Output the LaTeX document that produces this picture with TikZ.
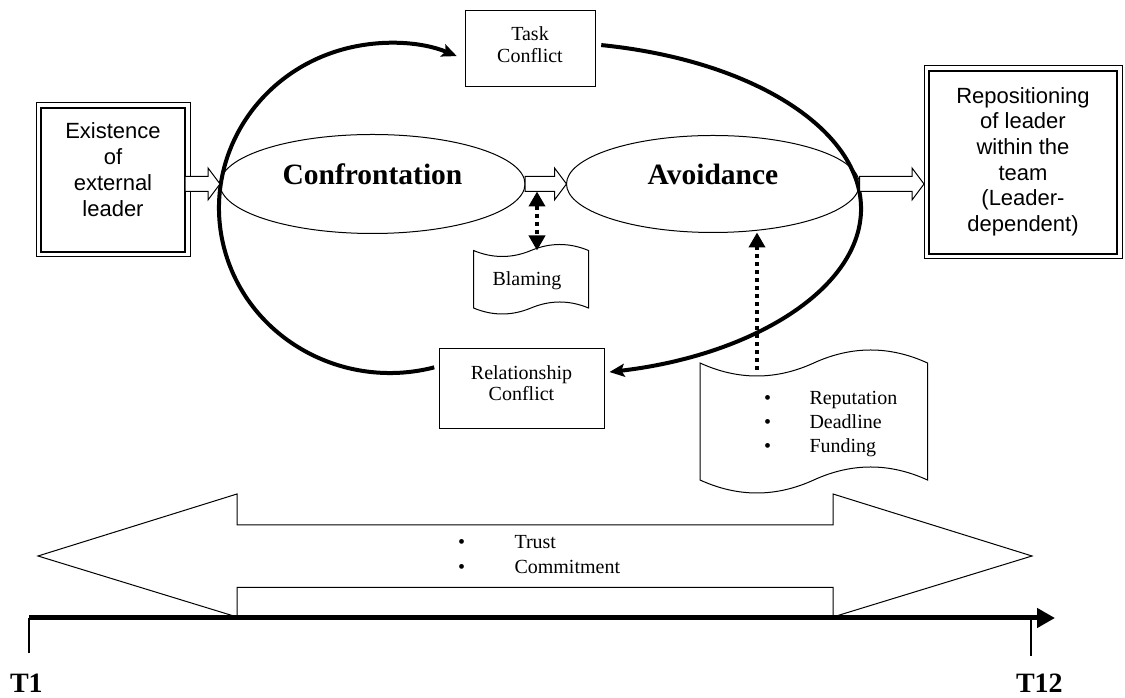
\documentclass[tikz,border=0pt]{standalone}
\usepackage{fontspec}
\setmainfont{Liberation Serif}
\newfontfamily\arialish{Liberation Sans}
\usetikzlibrary{arrows.meta,shapes.geometric,calc}
\tikzset{dottip/.tip={Triangle[length=15pt,width=16pt]}}

% wavy "punched tape" outline around an (invisible) rectangular node
\newcommand\papersheet[2]{%
  \draw[paperline] let \p1=(#1.north west), \p2=(#1.south east),
      \n1={(\x2-\x1)/6}, \n2={4*#2/3}, \n3={(\x1+\x2)/2} in
    (\x1,\y1) .. controls +(\n1,-\n2) and +(-\n1,-\n2) .. (\n3,\y1)
    .. controls +(\n1,\n2) and +(-\n1,\n2) .. (\x2,\y1)
    -- (\x2,\y2) .. controls +(-\n1,\n2) and +(\n1,\n2) .. (\n3,\y2)
    .. controls +(-\n1,-\n2) and +(\n1,-\n2) .. (\x1,\y2) -- cycle;}

\begin{document}
\begin{tikzpicture}[x=1pt,y=1pt,
  every node/.style={inner sep=0pt, outer sep=0pt},
  sansbox/.style={draw, line width=1.6pt, fill=white},
  sanstext/.style={font=\arialish\fontsize{22}{26}\selectfont, align=center},
  smallbox/.style={draw, line width=1pt, fill=white},
  smalltext/.style={font=\fontsize{20}{21.5}\selectfont, align=center},
  stage/.style={draw, ellipse, line width=1pt, text height=20pt, text depth=18pt,
    font=\bfseries\fontsize{29.5}{33}\selectfont},
  sheet/.style={draw=none},
  paperline/.style={line width=1pt, fill=white},
  listtext/.style={font=\fontsize{20}{24}\selectfont, anchor=base west},
  ring/.style={line width=4pt, -{Stealth[length=15pt,width=13pt,inset=3pt]}},
  dotlink/.style={line width=4pt, dash pattern=on 4pt off 4pt},
  blockarrow/.style={line width=1pt, fill=white, to path={
    let \p1=(\tikztostart), \p2=(\tikztotarget) in
    (\x1,\y2+7.5pt) -- (\x2-12pt,\y2+7.5pt) -- (\x2-12pt,\y2+16pt) -- (\tikztotarget)
    -- (\x2-12pt,\y2-16pt) -- (\x2-12pt,\y2-7.5pt) -- (\x1,\y2-7.5pt) -- cycle}},
  timeline/.style={line width=5pt, -{Triangle[length=18pt,width=19pt]}},
  tick/.style={line width=1.2pt},
  stamp/.style={font=\bfseries\fontsize{28}{30}\selectfont, anchor=base west},
]
\useasboundingbox (0,0) rectangle (1125,698);

% conflict cycle around the two stages
\coordinate (ringL) at (390,490);
\coordinate (ringR) at (540,489);
\draw[ring] ([shift={(285:171 and 165)}]ringL) arc[start angle=285, end angle=67, x radius=171, y radius=165];
\draw[ring] ([shift={(79:321 and 167)}]ringR) arc[start angle=79, end angle=-77.5, x radius=321, y radius=167];

% stages
\node[stage, minimum width=305pt, minimum height=99pt] (conf) at (372.5,514) {Confrontation};
\node[stage, minimum width=293pt, minimum height=97pt] (avoid) at (713,514) {Avoidance};

% conflict boxes
\node[smallbox, minimum width=130pt, minimum height=76pt] (task) at (530,649) {};
\node[smalltext] (taskT) at (530,653.1) {Task\\Conflict};
\node[smallbox, minimum width=165pt, minimum height=80pt] (rel) at (521.5,309) {};
\node[smalltext] (relT) at (521.5,314.6) {Relationship\\Conflict};

% start and outcome boxes (double frame)
\node[sansbox, minimum width=144pt, minimum height=144pt] (ext) at (113,518) {};
\draw[line width=1pt] ([shift={(-5pt,5pt)}]ext.north west) rectangle ([shift={(5pt,-5pt)}]ext.south east);
\node[sanstext] (extT) at (113,528) {Existence\\of\\external\\leader};
\node[sansbox, minimum width=188pt, minimum height=183pt] (out) at (1023,535.5) {};
\draw[line width=1pt] ([shift={(-5pt,5pt)}]out.north west) rectangle ([shift={(5pt,-5pt)}]out.south east);
\node[sanstext, font=\arialish\fontsize{22}{25.7}\selectfont] (outT) at (1023,536.3)
  {Repositioning\\of leader\\within the\\team\\(Leader-\\dependent)};

% block arrows along the process
\draw[blockarrow] (ext.east) to (conf.west);
\draw[blockarrow] (conf.east) to (avoid.west);
\draw[blockarrow] (avoid.east) to ([xshift=-5pt]out.west |- avoid.east);

% moderators
\node[sheet, minimum width=115pt, minimum height=57.5pt] (blame) at (531,418.75) {};
\papersheet{blame}{6}
\node[font=\fontsize{20}{24}\selectfont] (blameT) at (527,417.7) {Blaming};
\node[sheet, minimum width=227.5pt, minimum height=117pt] (rep) at (813.75,276.5) {};
\papersheet{rep}{13}
\node[listtext] (repT) at (764,293) {\begin{tabular}[t]{@{}l@{\hspace{38.5pt}}l@{}}\textbullet & Reputation\\ \textbullet & Deadline\\ \textbullet & Funding\end{tabular}};

\coordinate (confOut) at (537,506.5);
\draw[dotlink, dottip-dottip] (confOut) -- (confOut |- blame.north);
\coordinate (repIn) at (757,328);
\draw[dotlink, -dottip] (repIn) -- (repIn |- avoid.south);

% background conditions over time
\draw[line width=1pt, fill=white] (38,142) -- (237,204) -- (237,173) -- (833,173) -- (833,204)
  -- (1032,142) -- (833,81) -- (833,110.5) -- (237,110.5) -- (237,81) -- cycle;
\node[font=\fontsize{20}{25}\selectfont, anchor=base west] (trustT) at (458,149)
  {\begin{tabular}[t]{@{}l@{\hspace{49.5pt}}l@{}}\textbullet & Trust\\ \textbullet & Commitment\end{tabular}};

% timeline
\coordinate (tStart) at (29,80);
\coordinate (tEnd) at (1055,80);
\coordinate (tLast) at (1031,80);
\draw[timeline] (tStart) -- (tEnd);
\draw[tick] (tStart) -- ++(0,-35);
\draw[tick] (tLast) -- ++(0,-38);
\node[stamp] (T1) at (10,5) {T1};
\node[stamp] (T12) at (1016,5) {T12};
\end{tikzpicture}
\end{document}
